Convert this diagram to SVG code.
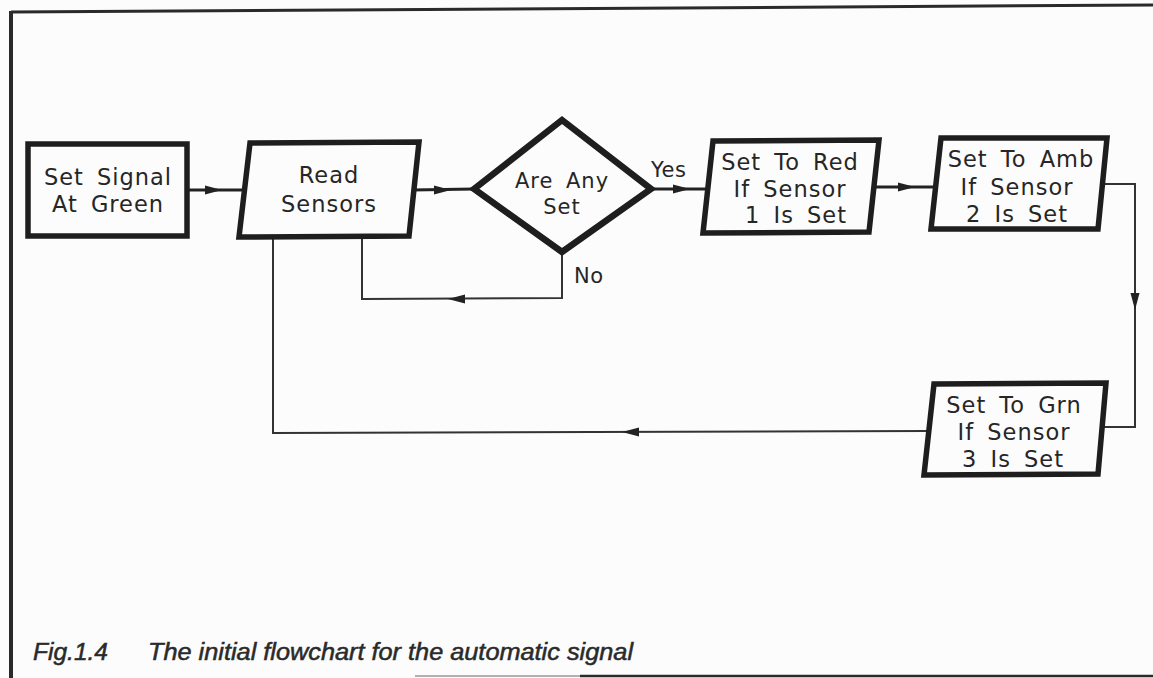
<svg xmlns="http://www.w3.org/2000/svg" xmlns:xlink="http://www.w3.org/1999/xlink" width="1153" height="678" viewBox="0 0 1153 678">
<style>
.bg{fill:#fcfcfc}
.frame{stroke:#2a2a2a;fill:none;stroke-width:3}
.box{fill:#fcfcfc;stroke:#1e1e1e;stroke-width:5.5;stroke-linejoin:miter}
.dia{fill:#fcfcfc;stroke:#1e1e1e;stroke-width:6.5;stroke-linejoin:miter}
.c1{fill:none;stroke:#222;stroke-width:3}
.c2{fill:none;stroke:#333;stroke-width:2}
.ah{fill:#222}
.t{font-family:"DejaVu Sans",sans-serif;font-size:22.5px;fill:#262626;text-anchor:middle;letter-spacing:1px;word-spacing:5px}
.td{font-size:21px}
.lbl{font-family:"DejaVu Sans",sans-serif;font-size:21px;fill:#262626;letter-spacing:0.5px}
.cap{font-family:"Liberation Sans",Arial,sans-serif;font-style:italic;font-size:23px;fill:#2a2a2a;stroke:#2a2a2a;stroke-width:0.5}
</style>
<defs>
<path id="ah" d="M0,0 L-17,-4.5 L-17,4.5 Z"/>
</defs>
<rect class="bg" x="0" y="0" width="1153" height="678"/>
<g id="frame">
<line class="frame" x1="11" y1="12" x2="1153" y2="5"/>
<line class="frame" x1="11" y1="11" x2="11" y2="678" style="stroke-width:4"/>
<line x1="415" y1="676" x2="580" y2="676" stroke="#999" stroke-width="1.5"/>
<line x1="580" y1="676" x2="1153" y2="676" stroke="#2a2a2a" stroke-width="2.5"/>
</g>
<g id="connectors">
<path class="c1" d="M188,190 L242,190"/>
<use xlink:href="#ah" class="ah" transform="translate(222,190)"/>
<path class="c1" d="M412,190 L474,189"/>
<use xlink:href="#ah" class="ah" transform="translate(451,190)"/>
<path class="c1" d="M652,189 L708,189"/>
<use xlink:href="#ah" class="ah" transform="translate(690,189)"/>
<path class="c1" d="M873,187 L936,187"/>
<use xlink:href="#ah" class="ah" transform="translate(915,187)"/>
<path class="c2" d="M1102,184 L1135,184 L1135,427 L1102,427"/>
<use xlink:href="#ah" class="ah" transform="translate(1135,310) rotate(90)"/>
<path class="c2" d="M928,431 L273,433 L273,237"/>
<use xlink:href="#ah" class="ah" transform="translate(622,432) rotate(180)"/>
<path class="c2" d="M562,253 L562,298 L362,299 L362,237"/>
<use xlink:href="#ah" class="ah" transform="translate(448,299) rotate(180)"/>
<text class="lbl" x="651" y="177">Yes</text>
<text class="lbl" x="574" y="283">No</text>
</g>
<g id="n1">
<rect class="box" x="28" y="144" width="159" height="92"/>
<text class="t" x="108" y="185">Set Signal</text>
<text class="t" x="108" y="212">At Green</text>
</g>
<g id="n2">
<polygon class="box" points="250,143 419,142 409,236 239,237"/>
<text class="t" x="329" y="183">Read</text>
<text class="t" x="329" y="212">Sensors</text>
</g>
<g id="n3">
<polygon class="dia" points="474,189 562,120 651,189 562,252"/>
<text class="t td" x="562" y="188">Are Any</text>
<text class="t td" x="562" y="214">Set</text>
</g>
<g id="n4">
<polygon class="box" points="713,141 879,140 869,232 703,233"/>
<text class="t" x="790" y="170">Set To Red</text>
<text class="t" x="790" y="197">If Sensor</text>
<text class="t" x="796" y="223">1 Is Set</text>
</g>
<g id="n5">
<polygon class="box" points="941,138 1107,138 1098,229 931,229"/>
<text class="t" x="1021" y="167">Set To Amb</text>
<text class="t" x="1017" y="195">If Sensor</text>
<text class="t" x="1017" y="222">2 Is Set</text>
</g>
<g id="n6">
<polygon class="box" points="934,384 1106,383 1098,474 924,475"/>
<text class="t" x="1014" y="413">Set To Grn</text>
<text class="t" x="1014" y="440">If Sensor</text>
<text class="t" x="1013" y="467">3 Is Set</text>
</g>
<g id="caption">
<text class="cap" x="33" y="660" textLength="75" lengthAdjust="spacingAndGlyphs">Fig.1.4</text>
<text class="cap" x="148" y="660" textLength="485" lengthAdjust="spacingAndGlyphs">The initial flowchart for the automatic signal</text>
</g>
</svg>
